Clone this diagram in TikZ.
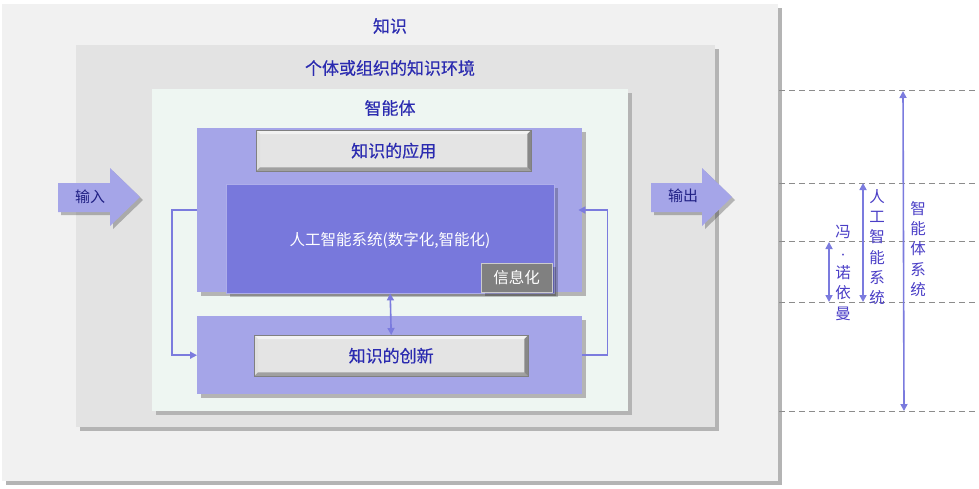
\documentclass[tikz,border=0pt]{standalone}
\usepackage{fontspec}
\setmainfont{Noto Sans CJK SC}
\newfontfamily\heavycjk[FakeBold=0.4]{Noto Sans CJK SC}
\usetikzlibrary{arrows.meta,calc,shadows}
\definecolor{cout}{HTML}{F1F1F1}
\definecolor{cenv}{HTML}{E3E3E3}
\definecolor{cagent}{HTML}{EEF6F2}
\definecolor{cpale}{HTML}{A5A5E8}
\definecolor{cai}{HTML}{7878DC}
\definecolor{cinfo}{HTML}{808080}
\definecolor{cshade}{HTML}{B4B4B4}
\definecolor{cstone}{HTML}{E4E4E4}
\definecolor{cbevlt}{HTML}{F2F2F2}
\definecolor{cbevdk}{HTML}{A0A0A0}
\definecolor{ctitle}{HTML}{2B2BB0}
\definecolor{clink}{HTML}{7B7BDE}
\definecolor{cguide}{HTML}{8C8C8C}
\definecolor{cside}{HTML}{4A3EC6}
\newcommand{\bevelit}[1]{%
  \fill[cbevlt] (#1.north west) -- (#1.north east) -- ([shift={(-4,4)}]#1.north east) -- ([shift={(4,4)}]#1.north west) -- cycle;
  \fill[cbevlt!92!black] (#1.north west) -- ([shift={(4,4)}]#1.north west) -- ([shift={(4,-4)}]#1.south west) -- (#1.south west) -- cycle;
  \fill[cbevdk] (#1.south west) -- ([shift={(4,-4)}]#1.south west) -- ([shift={(-4,-4)}]#1.south east) -- (#1.south east) -- cycle;
  \fill[cbevdk!85!black] (#1.north east) -- (#1.south east) -- ([shift={(-4,-4)}]#1.south east) -- ([shift={(-4,4)}]#1.north east) -- cycle;
  \draw[cinfo] (#1.north west) rectangle (#1.south east);
}
\tikzset{
  panel/.style={anchor=north west, inner sep=0pt, drop shadow={shadow xshift=4pt, shadow yshift=-4pt, fill=cshade, opacity=1}},
  layer/.style={panel, fill=#1},
  soft/.style={anchor=north west, inner sep=0pt, drop shadow={shadow xshift=4pt, shadow yshift=-4pt, fill=black, opacity=0.22}},
  stone/.style={anchor=north west, inner sep=0pt, fill=cstone},
  title/.style={text=ctitle, font=\heavycjk\fontsize{17}{20}\selectfont},
  arrowlbl/.style={text=ctitle!75!black, font=\fontsize{15}{18}\selectfont},
  arrowshade/.style={drop shadow={shadow xshift=3pt, shadow yshift=-3pt, fill=black, opacity=0.25}},
  sidelbl/.style={text=cside, align=center, font=\fontsize{15.5}{20.3}\selectfont},
  link/.style={draw=clink, line width=1.6pt},
  linkpre/.style={link, -{Triangle[length=7pt,width=7pt]}},
  linkboth/.style={link, {Triangle[length=7pt,width=7pt]}-{Triangle[length=7pt,width=7pt]}},
  guide/.style={draw=cguide, line width=0.8pt, dash pattern=on 6pt off 4pt},
}
\begin{document}
\begin{tikzpicture}[x=1pt,y=-1pt]
\useasboundingbox (0,0) rectangle (979,488);
% nested layers
\node[layer=cout, minimum width=776pt, minimum height=477pt] (know) at (2,4) {};
\node[layer=cenv, minimum width=639pt, minimum height=382pt] (env) at (76,45) {};
\node[layer=cagent, minimum width=476pt, minimum height=322pt] (agent) at (152,89) {};
\node[title] (tKnow) at (390,26) {知识};
\node[title] (tEnv) at (390,68) {个体或组织的知识环境};
\node[title] (tAgent) at (390,108) {智能体};
% purple blocks
\node[layer=cpale, minimum width=385pt, minimum height=164pt] (topBlk) at (197,128) {};
\node[layer=cpale, minimum width=385pt, minimum height=78pt] (botBlk) at (197,316) {};
\node[stone, minimum width=275pt, minimum height=41pt] (apply) at (256,130) {};
\bevelit{apply}
\node[title] (tApply) at (apply.center) {知识的应用};
\node[soft, fill=cai, draw=cai!60!white, minimum width=328pt, minimum height=109pt] (aiSys) at (226,184) {};
\node[text=white, font=\fontsize{15.5}{18}\selectfont] (tAi) at (390,240) {人工智能系统(数字化,智能化)};
\node[soft, fill=cinfo, draw=gray!40, minimum width=71pt, minimum height=29pt] (info) at (481,263) {};
\node[text=white, font=\fontsize{15.5}{18}\selectfont] (tInfo) at (info.center) {信息化};
\node[stone, minimum width=274pt, minimum height=41pt] (create) at (254,335) {};
\bevelit{create}
\node[title] (tCreate) at (create.center) {知识的创新};
% feedback links
\draw[linkboth] (aiSys.south) -- (create.north);
\draw[linkpre] (topBlk.west |- 0,210) -- ++(-25,0) |- (botBlk.west);
\draw[linkpre, shorten >=-4pt] (botBlk.east) -- ++(25,0) |- (topBlk.east |- 0,210);
% input / output
\fill[cpale, arrowshade] (58,183) -- (110,183) -- (110,168) -- (140,197) -- (110,226) -- (110,212) -- (58,212) -- cycle;
\node[arrowlbl] (inLbl) at (90,197) {输入};
\fill[cpale, arrowshade] (651,183) -- (702,183) -- (702,168) -- (732,197) -- (702,226) -- (702,212) -- (651,212) -- cycle;
\node[arrowlbl] (outLbl) at (683,196) {输出};
% scale on the right
\foreach \yy/\nm in {90/g1,183/g2,241/g3,302/g4,411/g5}{
  \coordinate (\nm L) at (779,\yy);
  \coordinate (\nm R) at (975,\yy);
  \draw[guide] (\nm L) -- (\nm R);
}
\coordinate (sysTop) at (903,91);
\coordinate (sysBot) at (904,411);
\coordinate (aiTop) at (863,183);
\coordinate (aiBot) at (863,302);
\coordinate (vnTop) at (829,242);
\coordinate (vnBot) at (829,302);
\draw[linkboth] (sysTop) -- (sysBot);
\draw[linkboth] (aiTop) -- (aiBot);
\draw[linkboth] (vnTop) -- (vnBot);
\node[sidelbl] (lSys) at (918,249) {智\\能\\体\\系\\统};
\node[sidelbl] (lAi) at (877,247) {人\\工\\智\\能\\系\\统};
\node[sidelbl] (lVn) at (843,273) {冯\\{\fontsize{9}{10}\selectfont ·}\\诺\\依\\曼};
\end{tikzpicture}
\end{document}
